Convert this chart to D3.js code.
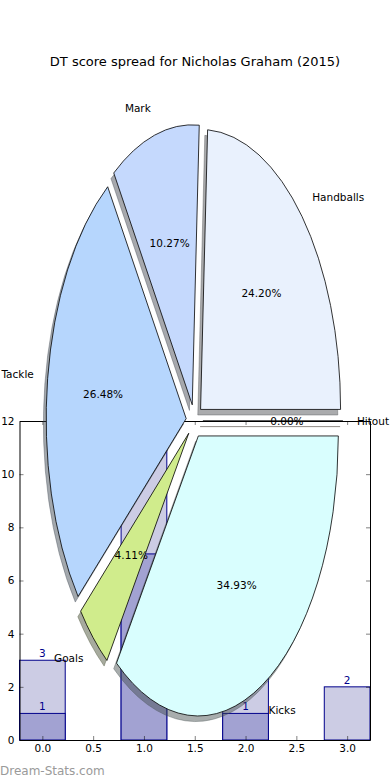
<!DOCTYPE html>
<html>
<head>
<meta charset="utf-8">
<script src="https://cdn.jsdelivr.net/npm/d3@7"></script>
<style>
  body { margin: 0; background: #fff; }
  text { font-family: "DejaVu Sans", sans-serif; }
</style>
</head>
<body>
<div id="chart"></div>
<script>
// pie data
var pieLabels = ["Handballs", "Mark", "Tackle", "Goals", "Kicks", "Hitout"],
    piePct = [24.20, 10.27, 26.48, 4.11, 34.93, 0.00],
    pieColors = ["#e9f1fd", "#c5d9fd", "#b6d6fd", "#d0ec8c", "#d9fefe", "#fde0c5"];

// bar data (two overlaid series)
var barCats = [0, 1, 2, 3],
    barLight = [3, 11, 3, 2],
    barDark = [1, 7, 1, 0],
    xTicks = [0.0, 0.5, 1.0, 1.5, 2.0, 2.5, 3.0],
    yTicks = [0, 2, 4, 6, 8, 10, 12];

var W = 390, H = 780;
var explode = 0.06, shadowOff = 0.02;

var svg = d3.select("#chart")
  .append("svg")
  .attr("width", W)
  .attr("height", H);

// title
svg.append("text")
  .attr("x", 195)
  .attr("y", 65.5)
  .attr("text-anchor", "middle")
  .style("font-size", "13px")
  .text("DT score spread for Nicholas Graham (2015)");

//-- bar axes --//
var x = d3.scaleLinear()
  .domain([-0.225, 3.225])
  .range([19.5, 370]);
var y = d3.scaleLinear()
  .domain([0, 12])
  .range([740, 421]);
var bw = 0.45;

var bars = svg.append("g");

bars.selectAll("rect.light")
  .data(barCats)
  .enter()
  .append("rect")
  .attr("x", function(d) { return x(d - bw / 2); })
  .attr("width", function(d) { return x(d + bw / 2) - x(d - bw / 2); })
  .attr("y", function(d, i) { return y(barLight[i]); })
  .attr("height", function(d, i) { return y(0) - y(barLight[i]); })
  .attr("fill", "#cccce4")
  .attr("stroke", "#00008b")
  .attr("stroke-width", 1);

bars.selectAll("rect.dark")
  .data(barCats.filter(function(d, i) { return barDark[i] > 0; }))
  .enter()
  .append("rect")
  .attr("x", function(d) { return x(d - bw / 2); })
  .attr("width", function(d) { return x(d + bw / 2) - x(d - bw / 2); })
  .attr("y", function(d) { return y(barDark[d]); })
  .attr("height", function(d) { return y(0) - y(barDark[d]); })
  .attr("fill", "#a2a2d2")
  .attr("stroke", "#00008b")
  .attr("stroke-width", 1);

// value labels (sit under the pie, like the original)
[barLight, barDark].forEach(function(vals) {
  bars.selectAll(null)
    .data(barCats.filter(function(d, i) { return vals[i] > 0; }))
    .enter()
    .append("text")
    .attr("x", function(d) { return x(d); })
    .attr("y", function(d) { return y(vals[d]) - 3; })
    .attr("text-anchor", "middle")
    .attr("fill", "#00008b")
    .style("font-size", "10.5px")
    .text(function(d) { return vals[d]; });
});

// axes frame + ticks (classic style: ticks inward on all sides)
var frame = svg.append("g");
frame.append("g")
  .attr("transform", "translate(0," + y(0) + ")")
  .call(d3.axisBottom(x).tickValues(xTicks).tickFormat(d3.format(".1f")).tickSizeInner(-4).tickSizeOuter(0).tickPadding(5));
frame.append("g")
  .attr("transform", "translate(0," + y(12) + ")")
  .call(d3.axisTop(x).tickValues(xTicks).tickFormat("").tickSizeInner(-4).tickSizeOuter(0));
frame.append("g")
  .attr("transform", "translate(" + x(-0.225) + ",0)")
  .call(d3.axisLeft(y).tickValues(yTicks).tickSizeInner(-4).tickSizeOuter(0).tickPadding(5));
frame.append("g")
  .attr("transform", "translate(" + x(3.225) + ",0)")
  .call(d3.axisRight(y).tickValues(yTicks).tickFormat("").tickSizeInner(-4).tickSizeOuter(0));
frame.selectAll(".domain").attr("stroke", "#000").attr("stroke-width", 1);
frame.selectAll(".tick line").attr("stroke", "#000").attr("stroke-width", 0.5);
frame.selectAll(".tick text")
  .style("font-family", "DejaVu Sans")
  .style("font-size", "10.5px")
  .attr("fill", "#000");

//-- pie axes (elliptical, not equal aspect) --//
var cx = 194.5, cy = 421, rx = 140, ry = 280;
var px = d3.scaleLinear().domain([-1, 1]).range([cx - rx, cx + rx]);
var py = d3.scaleLinear().domain([-1, 1]).range([cy + ry, cy - ry]);

var arcs = d3.pie().sort(null).startAngle(0).endAngle(2 * Math.PI)(piePct);

function wedgePath(a, dx, dy) {
  var t1 = a.startAngle, t2 = a.endAngle, tm = (t1 + t2) / 2;
  var ox = explode * Math.cos(tm) + dx, oy = explode * Math.sin(tm) + dy;
  var x0 = px(ox), y0 = py(oy);
  var x1 = px(ox + Math.cos(t1)), y1 = py(oy + Math.sin(t1));
  var x2 = px(ox + Math.cos(t2)), y2 = py(oy + Math.sin(t2));
  var large = (t2 - t1) > Math.PI ? 1 : 0;
  return "M" + x0 + "," + y0 + "L" + x1 + "," + y1 +
    "A" + rx + "," + ry + " 0 " + large + " 0 " + x2 + "," + y2 + "Z";
}

var pie = svg.append("g");

// shadows first
pie.selectAll("path.shadow")
  .data(arcs)
  .enter()
  .append("path")
  .attr("d", function(a) { return wedgePath(a, -shadowOff, -shadowOff); })
  .attr("fill", function(a, i) { return d3.rgb(pieColors[i]).darker(3.5); })
  .attr("fill-opacity", 0.45)
  .attr("stroke", function(a, i) { return d3.rgb(pieColors[i]).darker(3.5); })
  .attr("stroke-opacity", 0.45)
  .attr("stroke-width", 0.8);

pie.selectAll("path.wedge")
  .data(arcs)
  .enter()
  .append("path")
  .attr("d", function(a) { return wedgePath(a, 0, 0); })
  .attr("fill", function(a, i) { return pieColors[i]; })
  .attr("stroke", "#000")
  .attr("stroke-width", 0.8);

// slice labels
pie.selectAll("text.lab")
  .data(arcs)
  .enter()
  .append("text")
  .attr("x", function(a) {
    var tm = (a.startAngle + a.endAngle) / 2;
    return px((explode + 1.1) * Math.cos(tm));
  })
  .attr("y", function(a) {
    var tm = (a.startAngle + a.endAngle) / 2;
    return py((explode + 1.1) * Math.sin(tm));
  })
  .attr("dy", "0.35em")
  .attr("text-anchor", function(a) {
    var tm = (a.startAngle + a.endAngle) / 2;
    return Math.cos(tm) > 0 ? "start" : "end";
  })
  .style("font-size", "10.5px")
  .text(function(a, i) { return pieLabels[i]; });

// percentage labels
pie.selectAll("text.pct")
  .data(arcs)
  .enter()
  .append("text")
  .attr("x", function(a) {
    var tm = (a.startAngle + a.endAngle) / 2;
    return px((explode + 0.6) * Math.cos(tm));
  })
  .attr("y", function(a) {
    var tm = (a.startAngle + a.endAngle) / 2;
    return py((explode + 0.6) * Math.sin(tm));
  })
  .attr("dy", "0.35em")
  .attr("text-anchor", "middle")
  .style("font-size", "10.5px")
  .text(function(a, i) { return piePct[i].toFixed(2) + "%"; });

// watermark
svg.append("text")
  .attr("x", 0)
  .attr("y", 775)
  .attr("fill", "#9a9a9a")
  .style("font-size", "12px")
  .text("Dream-Stats.com");
</script>
</body>
</html>
